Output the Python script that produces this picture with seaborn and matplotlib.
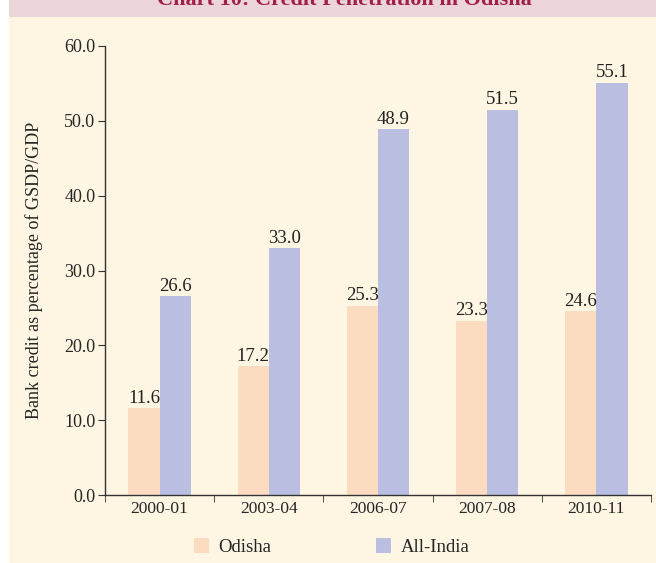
import matplotlib
matplotlib.use("Agg")
from matplotlib import pyplot as plt
from matplotlib.patches import Rectangle
import seaborn as sns
import pandas as pd
import numpy as np

lata = ['2000-01', '2003-04', '2006-07', '2007-08', '2010-11']
odisha = [11.6, 17.2, 25.3, 23.3, 24.6]
all_india = [26.6, 33.0, 48.9, 51.5, 55.1]
serie = ['Odisha', 'All-India']
kolory = ['#fcdcc1', '#babfe2']

df = pd.DataFrame({
    'rok': lata * 2,
    'wartosc': odisha + all_india,
    'seria': [serie[0]] * len(lata) + [serie[1]] * len(lata),
})

sns.set_style('ticks')
plt.rcParams['font.family'] = ['Liberation Serif', 'DejaVu Serif']

fig = plt.figure(figsize=(6.56, 5.63), dpi=100, facecolor='white')
# tlo kremowe i pasek tytulu
fig.patches.append(Rectangle((9/656, 0), 1 - 9/656, 1 - 17/563, transform=fig.transFigure,
                             facecolor='#fef5e2', edgecolor='none', zorder=-2))
fig.patches.append(Rectangle((9/656, 1 - 17/563), 1 - 9/656, 17/563, transform=fig.transFigure,
                             facecolor='#ecd5d8', edgecolor='none', zorder=-2))
fig.text(0.525, 1 - 5/563, 'Chart 10: Credit Penetration in Odisha', ha='center', va='baseline',
         fontsize=16, fontweight='bold', color='#a0204a')

ax = fig.add_axes([105/656, 1 - 495/563, 546/656, 449/563])
ax.set_facecolor('none')
ax.set_zorder(1)

sns.barplot(data=df, x='rok', y='wartosc', hue='seria', palette=kolory, width=0.57,
            saturation=1, linewidth=0, ax=ax, legend=True)

for c in ax.containers:
    ax.bar_label(c, fmt='%.1f', fontsize=13.5, color='#222222', padding=1)

ax.set_ylim(0, 60)
ax.set_yticks(np.arange(0, 61, 10))
ax.set_yticklabels([f'{v:.1f}' for v in np.arange(0, 61, 10)], fontsize=13)
ax.set_xlim(-0.5, len(lata) - 0.5)
ax.set_xticks(range(len(lata)))
ax.set_xticklabels(lata, fontsize=12.5)
ax.set_xticks(np.arange(-0.5, len(lata), 1), minor=True)
ax.tick_params(axis='x', which='major', length=0, pad=4)
ax.tick_params(axis='x', which='minor', length=5, color='#333333')
ax.tick_params(axis='y', length=5, color='#333333', pad=2)
ax.set_xlabel('')
ax.set_ylabel('Bank credit as percentage of GSDP/GDP', fontsize=13, labelpad=15)
for s in ['top', 'right']:
    ax.spines[s].set_visible(False)
for s in ['left', 'bottom']:
    ax.spines[s].set_color('#333333')
    ax.spines[s].set_linewidth(1)

h, l = ax.get_legend_handles_labels()
ax.get_legend().remove()
fig.legend(h, l, loc='center', bbox_to_anchor=(0.506, 1 - 547/563), ncol=2, frameon=False,
           fontsize=13.5, handlelength=0.8, handleheight=0.8, handletextpad=0.5, columnspacing=5.6)

plt.savefig('out.png', dpi=100, facecolor=fig.get_facecolor())
